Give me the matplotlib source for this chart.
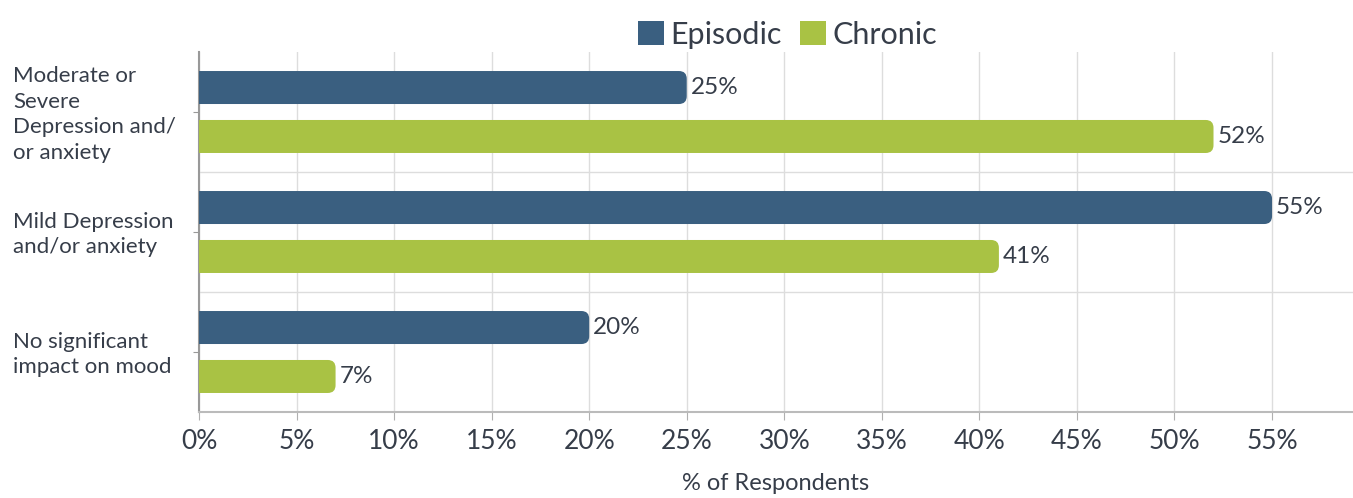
import matplotlib
matplotlib.use("Agg")
import matplotlib.pyplot as plt
from matplotlib.patches import FancyBboxPatch, Patch
from matplotlib.transforms import blended_transform_factory
import numpy as np

# dados
categorias = ["Moderate or\nSevere\nDepression and/\nor anxiety",
              "Mild Depression\nand/or anxiety",
              "No significant\nimpact on mood"]
episodic = [25, 55, 20]
chronic = [52, 41, 7]
series_nomes = ["Episodic", "Chronic"]
xticks = list(range(0, 60, 5))

cor_epi = "#3a5f80"
cor_chr = "#a9c244"
cor_txt = "#363d49"

plt.rcParams["font.family"] = ["Lato", "DejaVu Sans"]

fig = plt.figure(figsize=(13.53, 4.98), dpi=100)
ax = fig.add_axes([199 / 1353, 1 - 412 / 498, 1 - 199 / 1353, 360 / 498])

y = np.arange(len(categorias))
h = 0.275
off = 0.204
b1 = ax.barh(y - off, episodic, height=h, color=cor_epi, zorder=3)
b2 = ax.barh(y + off, chronic, height=h, color=cor_chr, zorder=3)

ax.set_xlim(0, 59.15)
ax.set_ylim(2.5, -0.5)

# pontas arredondadas à direita
r = 0.4
asp = (3 / 360) / (59.15 / 1154)
for bars in (b1, b2):
    for b in bars:
        b.set_visible(False)
        p = FancyBboxPatch((b.get_x() - 2 * r, b.get_y()), b.get_width() + 2 * r, b.get_height(),
                           boxstyle=f"round,pad=0,rounding_size={r}", mutation_aspect=asp,
                           facecolor=b.get_facecolor(), edgecolor="none", zorder=3, clip_on=True)
        ax.add_patch(p)

for bars, vals in ((b1, episodic), (b2, chronic)):
    for b, v in zip(bars, vals):
        ax.text(v + 0.2, b.get_y() + b.get_height() / 2, f"{v}%", va="center", ha="left",
                fontsize=17.5, color=cor_txt, zorder=4)

# grades
ax.set_xticks(xticks)
ax.set_xticklabels([f"{t}%" for t in xticks], fontsize=19, color=cor_txt)
ax.tick_params(axis="x", length=6, color="#b0b0b0", pad=6)
ax.grid(axis="x", color="#dddddd", linewidth=1, zorder=0)
for yb in (0.5, 1.5):
    ax.axhline(yb, color="#dddddd", linewidth=1, zorder=0)

ax.set_yticks(y)
ax.set_yticklabels([])
ax.tick_params(axis="y", length=4, color="#999999")

for s in ("top", "right"):
    ax.spines[s].set_visible(False)
ax.spines["left"].set_color("#999999")
ax.spines["left"].set_linewidth(1.5)
ax.spines["bottom"].set_color("#bbbbbb")
ax.spines["bottom"].set_linewidth(1.5)

trans = blended_transform_factory(fig.transFigure, ax.transData)
for yi, lab in zip(y, categorias):
    ax.text(13 / 1353, yi + 0.02, lab, transform=trans, ha="left", va="center", fontsize=16,
            color=cor_txt, linespacing=1.34)

ax.set_xlabel("% of Respondents", fontsize=17, color=cor_txt, labelpad=14)

handles = [Patch(facecolor=cor_epi, edgecolor="none"), Patch(facecolor=cor_chr, edgecolor="none")]
leg = ax.legend(handles, series_nomes, loc="lower center", bbox_to_anchor=(0.51, 0.975), ncol=2,
                frameon=False, fontsize=22, handlelength=0.85, handleheight=0.85, handletextpad=0.2,
                columnspacing=0.6, borderaxespad=0)
for t in leg.get_texts():
    t.set_color(cor_txt)

fig.savefig("out.png", dpi=100)
